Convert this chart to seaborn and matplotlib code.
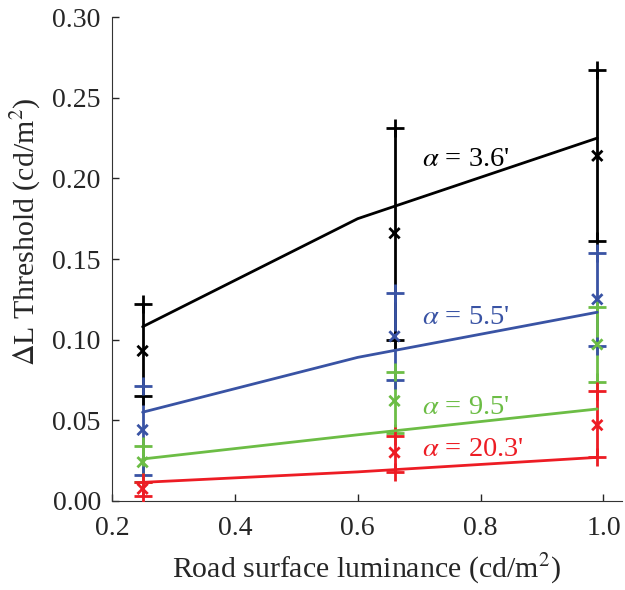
import numpy as np
import pandas as pd
import matplotlib
matplotlib.use('Agg')
import matplotlib.pyplot as plt
import seaborn as sns

# 데이터
series = ["3.6'", "5.5'", "9.5'", "20.3'"]
colors = ['#000000', '#3953a4', '#6cbd45', '#ed1c24']

# 측정점 x 위치
x_meas = [0.25, 0.66, 0.99]
mean_36 = [0.093, 0.166, 0.214]
lo_36 = [0.065, 0.100, 0.161]
hi_36 = [0.122, 0.231, 0.267]
mean_55 = [0.044, 0.102, 0.125]
lo_55 = [0.016, 0.075, 0.096]
hi_55 = [0.071, 0.129, 0.154]
mean_95 = [0.024, 0.062, 0.097]
lo_95 = [0.012, 0.042, 0.074]
hi_95 = [0.034, 0.080, 0.120]
mean_203 = [0.0075, 0.030, 0.047]
lo_203 = [0.003, 0.018, 0.027]
hi_203 = [0.012, 0.040, 0.068]

# 모델 곡선
x_fit = [0.25, 0.6, 0.99]
fit_36 = [0.108, 0.175, 0.225]
fit_55 = [0.055, 0.089, 0.117]
fit_95 = [0.026, 0.041, 0.057]
fit_203 = [0.0115, 0.018, 0.027]

# 라벨 위치
label_x = 0.704
label_y = [0.212, 0.114, 0.058, 0.0316]

means = [mean_36, mean_55, mean_95, mean_203]
los = [lo_36, lo_55, lo_95, lo_203]
his = [hi_36, hi_55, hi_95, hi_203]
fits = [fit_36, fit_55, fit_95, fit_203]

meas = pd.concat([pd.DataFrame({'x': x_meas, 'mean': m, 'lo': l, 'hi': h, 'alpha': s})
                  for s, m, l, h in zip(series, means, los, his)], ignore_index=True)
fit = pd.concat([pd.DataFrame({'x': x_fit, 'y': f, 'alpha': s})
                 for s, f in zip(series, fits)], ignore_index=True)
pal = dict(zip(series, colors))

sns.set_style('ticks')
plt.rcParams['font.family'] = ['Liberation Serif', 'DejaVu Serif']
plt.rcParams['mathtext.fontset'] = 'stix'
plt.rcParams['xtick.direction'] = 'in'
plt.rcParams['ytick.direction'] = 'in'

fig = plt.figure(figsize=(6.25, 5.9), dpi=100)
ax = fig.add_axes([0.179, 0.151, 0.816, 0.820])

# 오차 막대 (세로선 + 끝점 '+')
for s in series:
    d = meas[meas['alpha'] == s]
    ax.vlines(d['x'], d['lo'], d['hi'], color=pal[s], lw=2, zorder=2)
    ends = pd.concat([d[['x', 'lo']].rename(columns={'lo': 'v'}),
                      d[['x', 'hi']].rename(columns={'hi': 'v'})])
    ax.plot(ends['x'], ends['v'], '+', color=pal[s], ms=13, mew=2, zorder=3)

sns.lineplot(data=fit, x='x', y='y', hue='alpha', palette=pal, lw=2,
             legend=False, ax=ax, zorder=4)
sns.scatterplot(data=meas, x='x', y='mean', hue='alpha', palette=pal, marker='x',
                s=55, linewidth=2, legend=False, ax=ax, zorder=5)

for s, yy in zip(series, label_y):
    ax.text(label_x, yy, r'$\alpha$ = ' + s, color=pal[s], fontsize=20.5,
            va='center', ha='left')

ax.set_xlim(0.2, 1.03)
ax.set_ylim(0, 0.30)
ax.set_xticks([0.2, 0.4, 0.6, 0.8, 1.0])
ax.set_xticklabels(['0.2', '0.4', '0.6', '0.8', '1.0'])
ax.set_yticks(np.arange(0, 0.301, 0.05))
ax.set_yticklabels(['%.2f' % v for v in np.arange(0, 0.301, 0.05)])
ax.tick_params(labelsize=20, length=5, width=1)
ax.tick_params(axis='x', pad=11)
ax.tick_params(axis='y', pad=8)
ax.set_xlabel('Road surface luminance (cd/m$^2$)', fontsize=21.5, labelpad=8)
ax.set_ylabel(r'$\Delta$L Threshold (cd/m$^2$)', fontsize=21.5, labelpad=8)
ax.yaxis.set_label_coords(-0.135, 0.556)
sns.despine(ax=ax)
for sp in ['left', 'bottom']:
    ax.spines[sp].set_color('#333333')

fig.savefig('out.png', dpi=100)
